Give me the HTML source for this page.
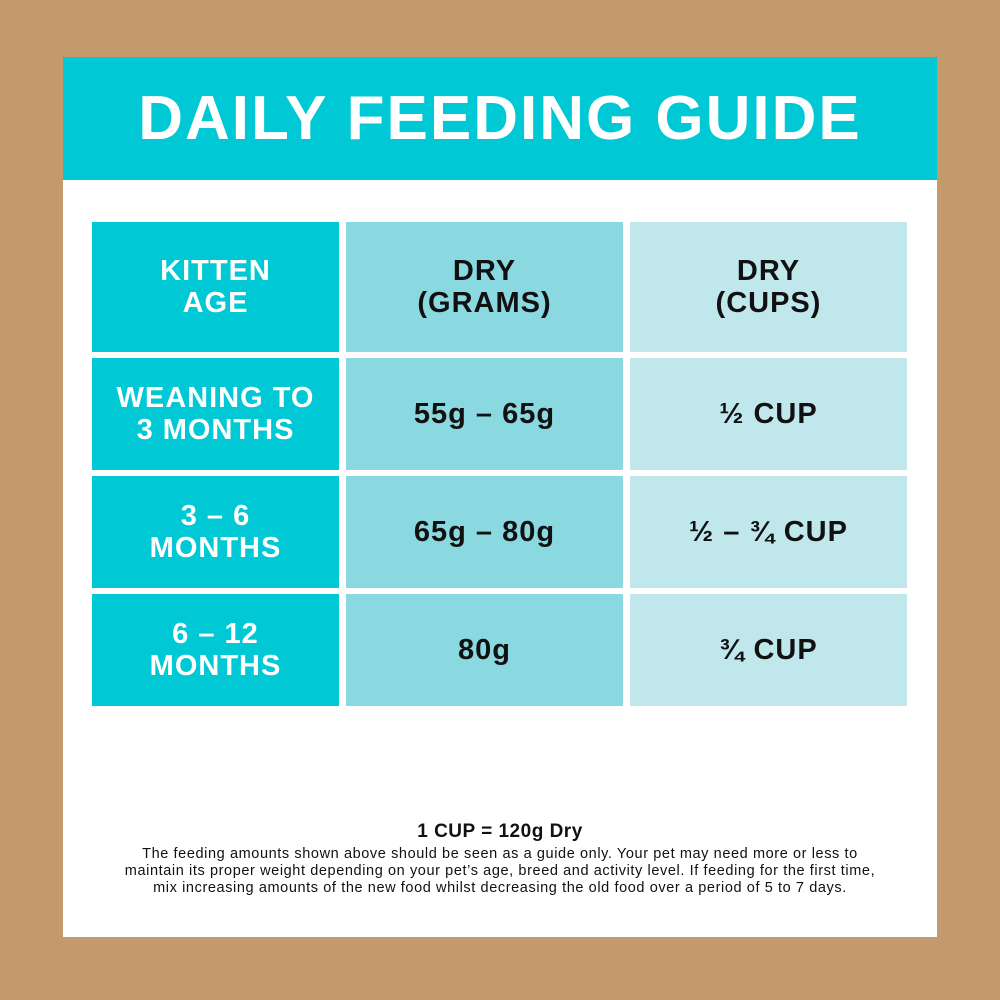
<!DOCTYPE html>
<html><head><meta charset="utf-8"><style>
body{margin:0;width:1000px;height:1000px;background:#c39a6b;position:relative;overflow:hidden;font-family:"Liberation Sans",sans-serif;}
.panel{position:absolute;left:63px;top:57px;width:874px;height:880px;background:#fff;}
.head{position:absolute;left:63px;top:57px;width:874px;height:123px;background:#00c8d5;color:#fff;font-weight:bold;font-size:62px;text-align:center;line-height:123px;letter-spacing:2px;}
.c{position:absolute;display:flex;align-items:center;justify-content:center;text-align:center;font-weight:bold;font-size:29px;line-height:32px;color:#111;letter-spacing:1px;}
.a{background:#00c8d5;color:#fff;}
.b{background:#8ad9e0;}
.d{background:#bfe7ec;}
.foot{position:absolute;left:63px;width:874px;text-align:center;color:#111;}
</style></head><body>
<div class="panel"></div>
<div class="head">DAILY FEEDING GUIDE</div>
<div class="c a" style="left:92px;top:222px;width:247px;height:130px">KITTEN<br>AGE</div>
<div class="c b" style="left:346px;top:222px;width:277px;height:130px">DRY<br>(GRAMS)</div>
<div class="c d" style="left:630px;top:222px;width:277px;height:130px">DRY<br>(CUPS)</div>
<div class="c a" style="left:92px;top:358px;width:247px;height:112px">WEANING TO<br>3 MONTHS</div>
<div class="c b" style="left:346px;top:358px;width:277px;height:112px">55g – 65g</div>
<div class="c d" style="left:630px;top:358px;width:277px;height:112px">½ CUP</div>
<div class="c a" style="left:92px;top:476px;width:247px;height:112px">3 – 6<br>MONTHS</div>
<div class="c b" style="left:346px;top:476px;width:277px;height:112px">65g – 80g</div>
<div class="c d" style="left:630px;top:476px;width:277px;height:112px">½ – ¾ CUP</div>
<div class="c a" style="left:92px;top:594px;width:247px;height:112px">6 – 12<br>MONTHS</div>
<div class="c b" style="left:346px;top:594px;width:277px;height:112px">80g</div>
<div class="c d" style="left:630px;top:594px;width:277px;height:112px">¾ CUP</div>
<div class="foot" style="top:821px;font-weight:bold;font-size:19px;letter-spacing:0.5px;">1 CUP = 120g Dry</div>
<div class="foot" style="top:846px;font-size:14.5px;line-height:17px;letter-spacing:0.6px;">The feeding amounts shown above should be seen as a guide only. Your pet may need more or less to<br>maintain its proper weight depending on your pet’s age, breed and activity level. If feeding for the first time,<br>mix increasing amounts of the new food whilst decreasing the old food over a period of 5 to 7 days.</div>
</body></html>
